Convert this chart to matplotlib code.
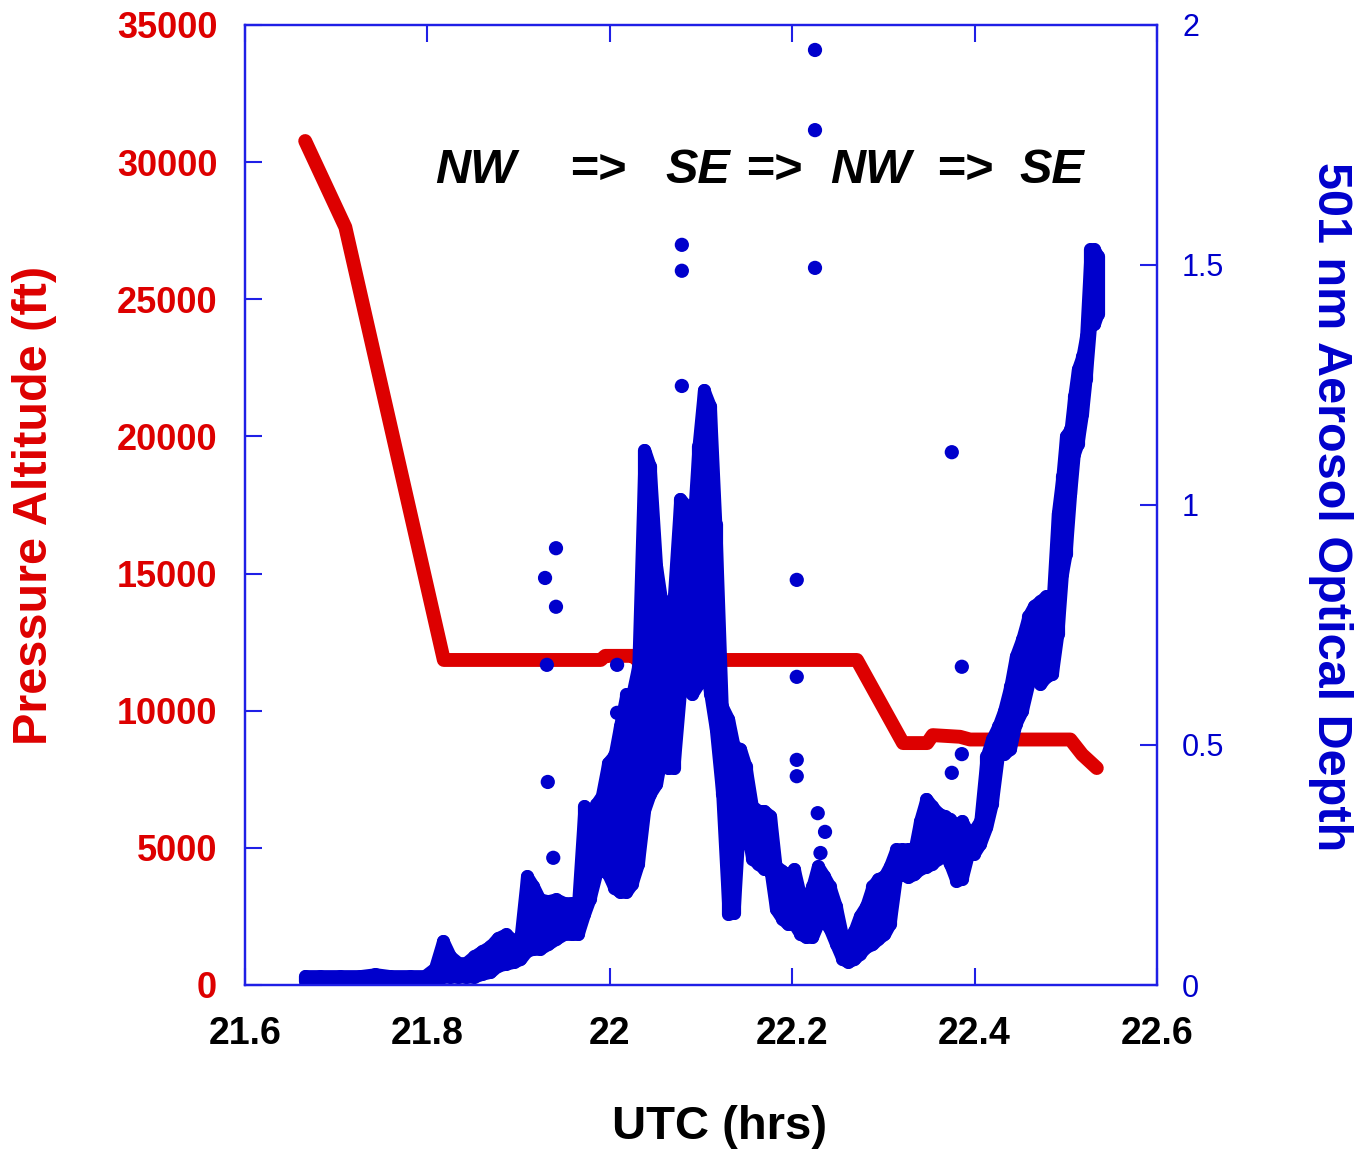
import matplotlib
matplotlib.use("Agg")
import matplotlib.pyplot as plt

# ---------------- data ----------------
# Pressure altitude (ft) vs UTC (hrs)
alt_t = [21.666, 21.710, 21.818, 21.990, 21.995, 22.025, 22.030, 22.271,
         22.3215, 22.348, 22.354, 22.384, 22.395, 22.480, 22.505, 22.518, 22.534]
alt_ft = [30770, 27630, 11850, 11850, 12000, 12000, 11850, 11850,
          8820, 8820, 9110, 9050, 8950, 8950, 8950, 8400, 7910]

# 501 nm AOD: dense trace, given as lower / upper envelope per time step
aod_t = [21.666, 21.682, 21.704, 21.726, 21.743, 21.759, 21.781, 21.797, 21.808,
         21.817, 21.825, 21.834, 21.842, 21.851, 21.860, 21.869, 21.877, 21.886,
         21.895, 21.902, 21.909, 21.916, 21.923, 21.932, 21.941, 21.950, 21.959,
         21.965, 21.972, 21.978, 21.985, 21.991, 21.998, 22.005, 22.011, 22.018,
         22.024, 22.031, 22.038, 22.044, 22.051, 22.057, 22.064, 22.070, 22.077,
         22.084, 22.090, 22.097, 22.103, 22.110, 22.116, 22.123, 22.130, 22.136,
         22.143, 22.149, 22.156, 22.163, 22.169, 22.176, 22.182, 22.189, 22.195,
         22.202, 22.209, 22.215, 22.222, 22.228, 22.235, 22.241, 22.248, 22.255,
         22.261, 22.268, 22.274, 22.281, 22.288, 22.294, 22.301, 22.307, 22.314,
         22.320, 22.327, 22.334, 22.340, 22.347, 22.353, 22.360, 22.367, 22.373,
         22.380, 22.386, 22.393, 22.399, 22.406, 22.413, 22.419, 22.426, 22.432,
         22.439, 22.445, 22.452, 22.459, 22.465, 22.472, 22.478, 22.485, 22.491,
         22.496, 22.500, 22.505, 22.509, 22.513, 22.518, 22.522, 22.527, 22.531,
         22.535]
aod_hi = [0.019, 0.019, 0.019, 0.019, 0.023, 0.019, 0.019, 0.019, 0.035,
          0.092, 0.060, 0.046, 0.046, 0.060, 0.071, 0.081, 0.098, 0.106,
          0.092, 0.102, 0.227, 0.206, 0.179, 0.175, 0.179, 0.171, 0.171,
          0.171, 0.373, 0.331, 0.377, 0.394, 0.463, 0.479, 0.540, 0.606,
          0.602, 0.665, 1.115, 1.081, 0.873, 0.796, 0.790, 0.810, 1.013,
          0.998, 0.915, 1.123, 1.240, 1.206, 0.960, 0.581, 0.554, 0.498,
          0.492, 0.456, 0.373, 0.363, 0.363, 0.352, 0.248, 0.238, 0.227,
          0.242, 0.185, 0.175, 0.206, 0.248, 0.227, 0.206, 0.165, 0.102,
          0.092, 0.113, 0.144, 0.165, 0.206, 0.221, 0.227, 0.248, 0.283,
          0.283, 0.283, 0.283, 0.342, 0.388, 0.373, 0.358, 0.352, 0.346,
          0.331, 0.342, 0.317, 0.321, 0.342, 0.477, 0.513, 0.540, 0.571,
          0.623, 0.685, 0.721, 0.769, 0.790, 0.800, 0.810, 0.790, 0.983,
          1.060, 1.144, 1.158, 1.227, 1.283, 1.310, 1.352, 1.533, 1.533,
          1.519]
aod_lo = [0.008, 0.008, 0.008, 0.008, 0.008, 0.008, 0.008, 0.008, 0.008,
          0.017, 0.017, 0.017, 0.017, 0.017, 0.023, 0.027, 0.040, 0.044,
          0.048, 0.054, 0.071, 0.075, 0.075, 0.085, 0.096, 0.106, 0.106,
          0.106, 0.148, 0.179, 0.231, 0.242, 0.231, 0.202, 0.194, 0.194,
          0.210, 0.252, 0.365, 0.398, 0.419, 0.481, 0.452, 0.452, 0.606,
          0.627, 0.606, 0.627, 0.690, 0.606, 0.533, 0.398, 0.148, 0.150,
          0.371, 0.335, 0.263, 0.252, 0.242, 0.238, 0.158, 0.138, 0.127,
          0.127, 0.106, 0.100, 0.100, 0.127, 0.133, 0.117, 0.085, 0.054,
          0.048, 0.054, 0.065, 0.079, 0.085, 0.096, 0.106, 0.127, 0.225,
          0.231, 0.225, 0.231, 0.242, 0.246, 0.252, 0.263, 0.273, 0.252,
          0.217, 0.221, 0.273, 0.273, 0.294, 0.329, 0.377, 0.481, 0.481,
          0.492, 0.544, 0.571, 0.627, 0.648, 0.627, 0.642, 0.648, 0.731,
          0.856, 0.898, 1.023, 1.106, 1.127, 1.190, 1.263, 1.377, 1.377,
          1.398]

# isolated AOD points
out_t = [21.929, 21.941, 21.941, 21.931, 21.932, 21.938, 22.008, 22.008,
         22.079, 22.079, 22.079, 22.225, 22.225, 22.225, 22.205, 22.205,
         22.205, 22.205, 22.228, 22.236, 22.231, 22.375, 22.386, 22.375, 22.386]
out_aod = [0.848, 0.910, 0.788, 0.667, 0.423, 0.265, 0.667, 0.567,
           1.542, 1.488, 1.248, 1.948, 1.781, 1.494, 0.844, 0.642,
           0.469, 0.435, 0.358, 0.319, 0.275, 1.110, 0.663, 0.442, 0.481]

x_ticks = [21.6, 21.8, 22.0, 22.2, 22.4, 22.6]
x_labels = ["21.6", "21.8", "22", "22.2", "22.4", "22.6"]
alt_ticks = [0, 5000, 10000, 15000, 20000, 25000, 30000, 35000]
alt_labels = ["0", "5000", "10000", "15000", "20000", "25000", "30000", "35000"]
aod_ticks = [0, 0.5, 1.0, 1.5, 2.0]
aod_labels = ["0", "0.5", "1", "1.5", "2"]
direction_words = ["NW", "=>", "SE", "=>", "NW", "=>", "SE"]

# ---------------- style ----------------
RED = "#dd0000"
BLUE = "#0000cc"
SPINE = "#1f1fe6"
FONT = "Liberation Sans"
plt.rcParams["font.family"] = [FONT, "DejaVu Sans"]

W, H = 1354, 1154
fig = plt.figure(figsize=(W / 100, H / 100), dpi=100)
ax = fig.add_axes([245 / W, 1 - 985 / H, 912 / W, 960 / H])
ax2 = ax.twinx()

# altitude (left axis)
ax.plot(alt_t, alt_ft, color=RED, lw=10.0, solid_capstyle="round",
        solid_joinstyle="round", zorder=2)
ax.set_xlim(21.6, 22.6)
ax.set_ylim(0, 35000)

# AOD (right axis): band of overlapping dots
band = ax2.fill_between(aod_t, aod_lo, aod_hi, facecolor=BLUE,
                        edgecolor=BLUE, linewidth=9.0)
band.set_joinstyle("round")
band.set_capstyle("round")
lc = ax2.vlines(aod_t, aod_lo, aod_hi, colors=BLUE, linewidth=9.5)
lc.set_capstyle("round")
ax2.scatter(out_t, out_aod, s=105, color=BLUE, edgecolors="none")
ax2.set_ylim(0, 2)
ax2.set_xlim(21.6, 22.6)

# ticks
ax.set_xticks(x_ticks)
ax.set_xticklabels(x_labels, fontsize=27, fontweight="bold", color="black")
ax.set_yticks(alt_ticks)
ax.set_yticklabels(alt_labels, fontsize=26, fontweight="bold", color=RED)
ax2.set_yticks(aod_ticks)
ax2.set_yticklabels(aod_labels, fontsize=22, color=BLUE)

ax.tick_params(axis="x", direction="in", length=12, width=1.5, color=SPINE,
               pad=22, top=True, bottom=True)
ax.tick_params(axis="y", direction="in", length=12, width=1.5, color=SPINE,
               pad=20, left=True, right=False)
ax2.tick_params(axis="y", direction="in", length=12, width=1.5, color=SPINE,
                pad=18)

for a in (ax, ax2):
    for s in a.spines.values():
        s.set_color(SPINE)
        s.set_linewidth(1.6)

# axis labels
fig.text(35 / W, 1 - 505 / H, "Pressure Altitude (ft)", rotation=90,
         ha="center", va="center", fontsize=35, fontweight="bold", color=RED)
fig.text(1330 / W, 1 - 507 / H, "501 nm Aerosol Optical Depth", rotation=-90,
         ha="center", va="center", fontsize=35, fontweight="bold", color=BLUE)
fig.text(720 / W, 1 - 1127 / H, "UTC (hrs)", ha="center", va="center",
         fontsize=34, fontweight="bold", color="black")

# direction annotation
word_x = [0.253, 0.386, 0.497, 0.579, 0.686, 0.789, 0.885]
for wx, w in zip(word_x, direction_words):
    ax2.text(wx, 0.8354, w, transform=ax2.transAxes, ha="center",
             va="baseline", fontsize=35, fontweight="bold", style="italic",
             color="black")

fig.savefig("out.png", dpi=100)
